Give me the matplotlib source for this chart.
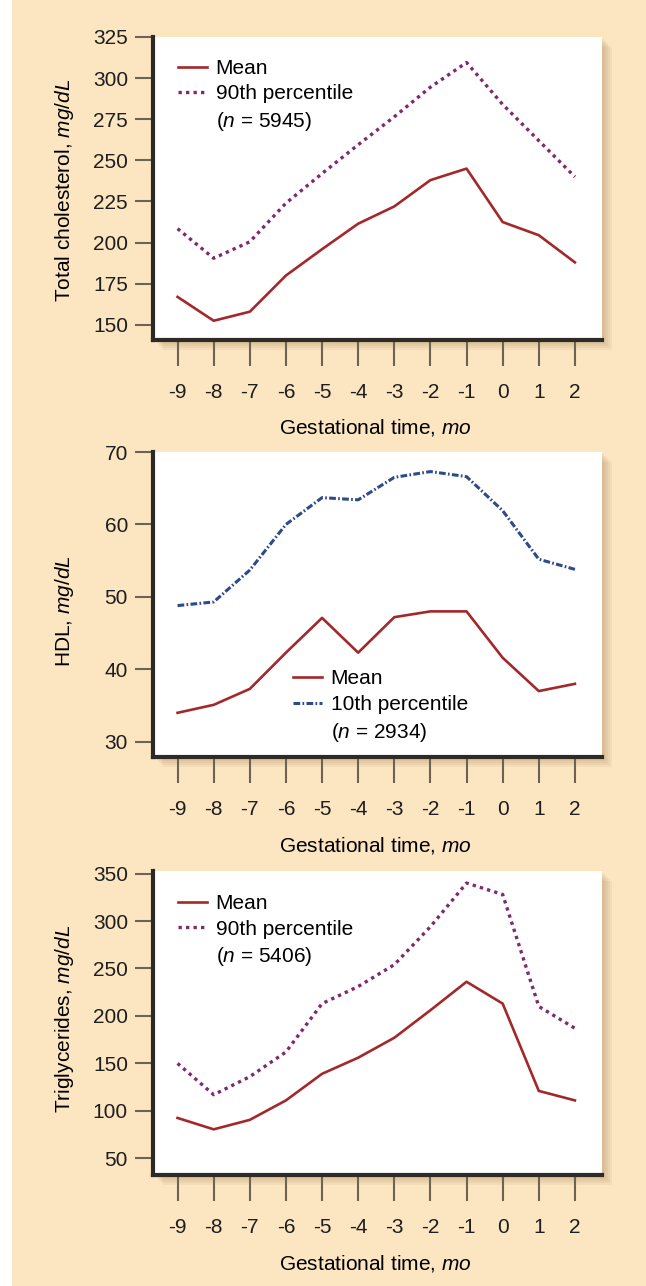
import numpy as np
import matplotlib
matplotlib.use("Agg")
import matplotlib.pyplot as plt
from matplotlib.patches import Rectangle
from matplotlib.lines import Line2D

plt.rcParams["font.family"] = ["Liberation Sans", "DejaVu Sans"]
plt.rcParams["mathtext.fontset"] = "custom"
plt.rcParams["mathtext.rm"] = "Liberation Sans"
plt.rcParams["mathtext.it"] = "Liberation Sans:italic"
plt.rcParams["axes.unicode_minus"] = False

months = [-9, -8, -7, -6, -5, -4, -3, -2, -1, 0, 1, 2]
month_labels = [str(m) for m in months]

# total cholesterol, mg/dL
tc_mean = [167, 152.5, 158, 180, 196, 211.5, 222, 238, 245, 212.5, 204.5, 188]
tc_p90 = [208.5, 190.5, 200.5, 224, 242, 259.5, 276.5, 294.5, 309.5, 284, 262, 240]
tc_n = 5945

# HDL, mg/dL
hdl_mean = [34.0, 35.1, 37.3, 42.3, 47.1, 42.3, 47.2, 48.0, 48.0, 41.6, 37.0, 38.0]
hdl_p10 = [48.8, 49.3, 53.7, 60.0, 63.7, 63.4, 66.5, 67.3, 66.6, 61.9, 55.2, 53.8]
hdl_n = 2934

# triglycerides, mg/dL
tg_mean = [92.5, 80.5, 90.5, 111, 139, 156, 177, 206, 236, 213, 121, 111]
tg_p90 = [150, 117, 136, 162, 213, 231, 254, 294, 340, 328, 210, 187]
tg_n = 5406

BG = "#fce5c1"
MEAN_C = "#a3282a"
P90_C = "#7d2a72"
P10_C = "#2d4a8a"
FS = 15

W, H = 646, 1286
fig = plt.figure(figsize=(W / 100, H / 100), dpi=100)
fig.patch.set_facecolor("white")
fig.add_artist(Rectangle((12 / W, 0), 1 - 12 / W, 1, transform=fig.transFigure,
                         facecolor=BG, edgecolor="none", zorder=-3))


def make_axes(top, bottom, left=153, right=602):
    rect = [left / W, 1 - bottom / H, (right - left) / W, (bottom - top) / H]
    # soft drop shadow behind the white box
    for d in range(2, 11, 2):
        fig.add_artist(Rectangle((rect[0] + d / W, rect[1] - d / H), rect[2], rect[3],
                                 transform=fig.transFigure, facecolor="#8a6a3a",
                                 edgecolor="none", alpha=0.07, zorder=-2))
    ax = fig.add_axes(rect)
    ax.set_facecolor("white")
    for s in ["top", "right"]:
        ax.spines[s].set_visible(False)
    for s in ["left", "bottom"]:
        ax.spines[s].set_linewidth(3)
        ax.spines[s].set_color("#2e2a26")
    ax.tick_params(axis="y", direction="out", length=13, width=1.5, color="#6e6253",
                   labelsize=FS, pad=5, labelcolor="#1e1e1e")
    ax.tick_params(axis="x", direction="out", length=19, width=1.5, color="#6e6253",
                   labelsize=FS, pad=12, labelcolor="#1e1e1e")
    ax.set_xticks(months)
    ax.set_xticklabels(month_labels)
    ax.set_xlim(-9.68, 2.75)
    ax.set_xlabel(r"Gestational time, $\it{mo}$", fontsize=FS)
    ax.xaxis.set_label_coords(0.495, -0.255)
    return ax


def add_legend(ax, handles, labels, x, y):
    ax.legend(handles, labels, loc="upper left", bbox_to_anchor=(x, y), frameon=False,
              fontsize=FS, handlelength=1.4, handletextpad=0.4, labelspacing=0.32,
              borderpad=0, borderaxespad=0)


dotted = dict(color=P90_C, lw=2.4, dashes=(1.0, 1.25))
dashdot = dict(color=P10_C, lw=2.2, dashes=(2.2, 0.75, 0.55, 0.75))
solid = dict(color=MEAN_C, lw=1.9)
blank = Line2D([], [], linestyle="none")

# panel 1: total cholesterol
ax1 = make_axes(37, 340)
l1, = ax1.plot(months, tc_mean, **solid)
l2, = ax1.plot(months, tc_p90, **dotted)
ax1.set_ylim(140.8, 325)
ax1.set_yticks(np.arange(150, 326, 25))
ax1.set_ylabel(r"Total cholesterol, $\it{mg/dL}$", fontsize=FS)
ax1.yaxis.set_label_coords(-0.172, 0.495)
add_legend(ax1, [l1, l2, blank],
           ["Mean", "90th percentile", r"($\it{n}$ = %d)" % tc_n], 0.056, 0.928)

# panel 2: HDL
ax2 = make_axes(452, 757)
l1, = ax2.plot(months, hdl_mean, **solid)
l2, = ax2.plot(months, hdl_p10, **dashdot)
ax2.set_ylim(27.9, 70)
ax2.set_yticks(np.arange(30, 71, 10))
ax2.set_ylabel(r"HDL, $\it{mg/dL}$", fontsize=FS)
ax2.yaxis.set_label_coords(-0.172, 0.48)
add_legend(ax2, [l1, l2, blank],
           ["Mean", "10th percentile", r"($\it{n}$ = %d)" % hdl_n], 0.312, 0.287)

# panel 3: triglycerides
ax3 = make_axes(871, 1175)
l1, = ax3.plot(months, tg_mean, **solid)
l2, = ax3.plot(months, tg_p90, **dotted)
ax3.set_ylim(32.4, 352.7)
ax3.set_yticks(np.arange(50, 351, 50))
ax3.set_ylabel(r"Triglycerides, $\it{mg/dL}$", fontsize=FS)
ax3.yaxis.set_label_coords(-0.172, 0.515)
add_legend(ax3, [l1, l2, blank],
           ["Mean", "90th percentile", r"($\it{n}$ = %d)" % tg_n], 0.056, 0.924)

fig.savefig("out.png", dpi=100, facecolor=fig.get_facecolor())
